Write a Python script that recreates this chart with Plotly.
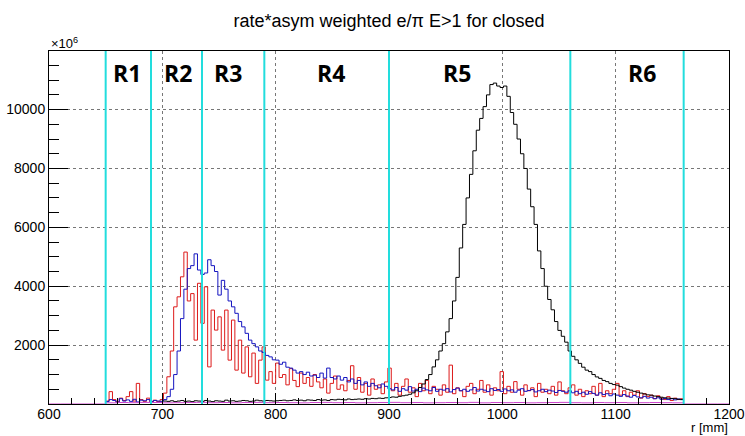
import plotly.graph_objects as go

# ---------------- data ----------------
TITLE = "rate*asym weighted e/π E>1 for closed"
X_TITLE = "r [mm]"
Y_EXP = "×10<sup>6</sup>"

BIN_W = 3.0            # mm per bin
RB_START = 650.0       # red/blue histogram start (mm)
BLACK_START = 701.0    # black histogram start (mm)
MAG_START = 600.0
MAG_W = 10.0

blue = [80, 150, 120, 60, 180, 100, 140, 90, 160, 70, 130, 110, 150, 80, 120, 100, 90,
        150, 250, 500, 1000, 1800, 2900, 3900, 4600, 4700, 5100, 4550, 4400, 4450, 4900,
        4700, 4500, 3700, 4200, 3900, 3500, 3300, 3080, 2800, 2620, 2400, 2170, 2050, 1940,
        1800, 1750, 1650, 1600, 1500, 1490, 1350, 1420, 1250, 1220, 1150, 1050, 1100, 1000,
        1080, 950, 980, 900, 1050, 880, 1220, 900, 850, 950, 810, 900, 750, 850, 700, 800,
        650, 750, 600, 700, 620, 550, 680, 600, 520,
        480, 560, 430, 520, 470, 590, 440, 500, 420, 540, 480, 450, 560, 430, 500, 470, 520,
        410, 490, 540, 450, 500, 430, 480, 560, 440, 500, 470, 420, 520, 460, 490, 430, 510,
        450, 480, 400, 470, 520, 430, 460, 490, 410, 450, 500, 420, 470, 440, 390, 460, 430,
        400, 450,
        380, 430, 350, 400, 330, 420, 360, 300, 380, 320, 350, 280, 340, 300, 260, 320, 270,
        230, 290, 240, 210, 260, 200, 230, 180, 210, 160, 190, 150, 180, 140, 170, 150]

red = [100, 420, 150, 80, 200, 120, 250, 420, 100, 700, 150, 90, 200, 60, 130, 80, 150,
       370, 925, 1800, 3300, 3640, 4320, 5160, 3500, 3750, 2170, 4100, 2740, 3980, 1260,
       3190, 2510, 2960, 1830, 3190, 1490, 2850, 1150, 2170, 1050, 1940, 925, 1730, 700,
       1490, 1940, 810, 1100, 700, 1390, 900, 1000, 650, 1200, 800, 590, 1050, 700, 900,
       600, 1000, 750, 550, 850, 370, 700, 950, 500, 650, 450, 800, 1300, 500, 900, 400,
       700, 300, 850, 500, 650, 350, 750, 1220,
       450, 700, 300, 600, 850, 400, 550, 250, 700, 450, 800, 350, 600, 500, 300, 650, 400,
       1320, 350, 550, 450, 250, 600, 700, 350, 500, 800, 400, 650, 300, 550, 450, 1100,
       350, 600, 400, 760, 500, 300, 650, 450, 550, 250, 700, 400, 500, 350, 600, 300, 750,
       450, 350, 550,
       650, 300, 500, 250, 450, 350, 600, 300, 700, 250, 450, 350, 500, 700, 300, 450, 250,
       400, 300, 450, 200, 350, 250, 300, 180, 280, 200, 150, 250, 120, 200, 150, 180]

black = [100, 90, 110, 80, 100, 120, 90, 100, 80, 110, 100, 90, 120, 100, 80, 110, 100,
         90, 130, 100, 110, 90, 100, 120, 110, 90, 100, 130, 110, 100, 120, 110, 100,
         110, 120, 130, 110, 120, 140, 120, 130, 110, 140, 130, 120, 150, 130, 140, 120,
         150, 140, 160, 150, 140, 170, 150, 160, 170, 160, 180, 170, 190, 180, 200, 190, 210,
         220, 240, 230, 260, 280, 300, 330, 380, 450, 560, 680, 830, 1000, 1260, 1500, 1800,
         2050, 2450, 2900, 3500, 4300, 5300, 6100, 7000, 7800, 8600, 9300, 9700, 10100,
         10500, 10850, 10900, 10800, 10750, 10800, 10450, 9900, 9500, 9000, 8500, 8000,
         7300, 6700, 6100, 5200, 4600, 4000, 3550, 3200, 2800, 2500, 2300, 2100, 1800,
         1620, 1500, 1380, 1250, 1150, 1100, 1000, 920, 870, 800, 760, 700, 660, 640, 590,
         540, 500, 470, 430, 400, 370, 340, 310, 300, 270, 250, 230, 210, 200, 190, 180,
         160, 150]

magenta = [0, 0, 0, 0, 0,
           40, 50, 45, 55, 50, 40, 45, 50, 55, 45, 50, 40, 50, 55, 45, 50, 45, 40, 50, 55,
           45, 50, 40, 45, 50, 55, 45, 50, 40, 45, 50, 45, 55, 40, 50, 45, 50, 40, 45, 50,
           55, 45, 40, 50, 45, 50, 40, 45, 50, 45, 40,
           0, 0, 0, 0]

region_edges = [650, 690, 735, 790, 900, 1060, 1160]
region_names = ["R1", "R2", "R3", "R4", "R5", "R6"]
region_label_x = [669, 714, 758, 849, 960, 1123]

x_ticks = [600, 700, 800, 900, 1000, 1100, 1200]
y_ticks = [2000, 4000, 6000, 8000, 10000]
y_tick_text = ["2000", "4000", "6000", "8000", "10000"]
X_RANGE = [600, 1200]
Y_RANGE = [0, 11990]


def step_xy(start, width, vals):
    xs = [start + i * width for i in range(len(vals) + 1)]
    ys = list(vals) + [vals[-1]]
    return xs, ys


fig = go.Figure()

for vals, start, w, color in [
    (red, RB_START, BIN_W, "#dd1a1a"),
    (blue, RB_START, BIN_W, "#1414c0"),
    (black, BLACK_START, BIN_W, "#000000"),
    (magenta, MAG_START, MAG_W, "#cc44cc"),
]:
    xs, ys = step_xy(start, w, vals)
    fig.add_trace(go.Scatter(x=xs, y=ys, mode="lines", line=dict(color=color, width=1, shape="hv"),
                             showlegend=False, hoverinfo="skip"))

for e in region_edges:
    fig.add_shape(type="line", x0=e, x1=e, y0=0, y1=1, xref="x", yref="paper",
                  line=dict(color="#22dddd", width=2), layer="above")

for name, lx in zip(region_names, region_label_x):
    fig.add_annotation(x=lx, y=1 - (73.5 - 51) / 353, xref="x", yref="paper", text=f"<b>{name}</b>",
                       showarrow=False, font=dict(family="Open Sans", size=23, color="black"),
                       xanchor="center", yanchor="middle")

fig.add_annotation(x=1, y=-(436 - 404) / 353, xref="paper", yref="paper", text=X_TITLE, showarrow=False,
                   xanchor="right", yanchor="bottom", borderpad=0,
                   font=dict(family="Liberation Sans", size=13, color="black"))
fig.add_annotation(x=0, y=1.023, xref="paper", yref="paper", text=Y_EXP, showarrow=False,
                   xanchor="left", yanchor="middle",
                   font=dict(family="Liberation Sans", size=13, color="black"))

axis_common = dict(showline=True, linecolor="black", linewidth=1, mirror=True,
                   ticks="inside", tickcolor="black", showgrid=True, gridcolor="#777777",
                   griddash="dot", gridwidth=1, zeroline=False, automargin=False,
                   tickfont=dict(family="Liberation Sans", size=14, color="black"))

fig.update_xaxes(range=X_RANGE, tickvals=x_ticks, ticklen=11, ticklabelstandoff=-3,
                 minor=dict(dtick=20, tick0=600, ticks="inside", ticklen=6, tickcolor="black", showgrid=False),
                 **axis_common)
fig.update_yaxes(range=Y_RANGE, tickvals=y_ticks, ticktext=y_tick_text, ticklen=19,
                 minor=dict(dtick=500, tick0=0, ticks="inside", ticklen=10, tickcolor="black", showgrid=False),
                 **axis_common)

fig.update_layout(
    width=745, height=436,
    margin=dict(l=49, r=16, t=51, b=32),
    paper_bgcolor="white", plot_bgcolor="white",
    title=dict(text=TITLE, x=0.5, xref="paper", y=1 - 21 / 436, yref="container",
               xanchor="center", yanchor="middle",
               font=dict(family="Liberation Sans", size=18, color="black")),
)

fig.write_html("out.html")
